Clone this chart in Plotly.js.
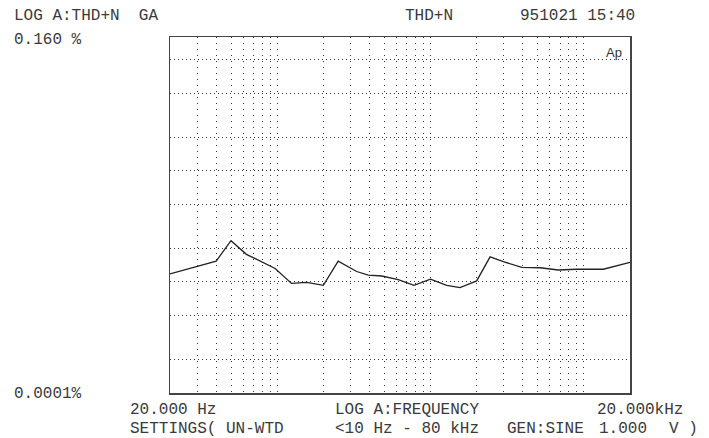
<!DOCTYPE html>
<html>
<head>
<meta charset="utf-8">
<script src="https://cdn.plot.ly/plotly-3.0.1.min.js"></script>
<style>
  html, body { margin: 0; padding: 0; background: #fff; }
  #chart { width: 709px; height: 438px; }
</style>
</head>
<body>
<div id="chart"></div>
<script>
// ---- data ----
const freqHz = [20, 40, 50, 63, 97, 124, 156, 200, 250, 330, 393, 481, 616, 780, 1000, 1276, 1557, 2000, 2446, 2986, 3936, 5180, 6813, 8980, 13400, 20000];
const thdPct = [0.00118, 0.00154, 0.00235, 0.00177, 0.00132, 0.00097, 0.00099, 0.00093, 0.00154, 0.00124, 0.00115, 0.00113, 0.00105, 0.00093, 0.00106, 0.00093, 0.00089, 0.00102, 0.00168, 0.00152, 0.00135, 0.00134, 0.00128, 0.00130, 0.00130, 0.00150];

const xGridHz = [30, 40, 50, 60, 70, 80, 90, 100, 200, 300, 400, 500, 600, 700, 800, 900, 1000, 2000, 3000, 4000, 5000, 6000, 7000, 8000, 9000, 10000];
const yGridPct = [0.0002, 0.0005, 0.001, 0.002, 0.005, 0.01, 0.02, 0.05, 0.1];
const xMin = 20, xMax = 20000;
const yMin = 0.0001, yMax = 0.160;

const headerLeft = "LOG A:THD+N  GA";
const headerMid = "THD+N";
const headerRight = "951021 15:40";
const yTopLabel = "0.160 %";
const yBottomLabel = "0.0001%";
const xLeftLabel = "20.000 Hz";
const xMidLabel = "LOG A:FREQUENCY";
const xRightLabel = "20.000kHz";
const footLeft = "SETTINGS( UN-WTD";
const footMid = "<10 Hz - 80 kHz";
const footGen = "GEN:SINE";
const footLevel = "1.000";
const footUnit = "V )";
const logo = "Ap";

// ---- layout helpers (pixel -> paper) ----
const W = 709, H = 438;
const L = 170, R = 630, T = 37, B = 393;
const px = x => (x - L) / (R - L);
const py = y => (B - y) / (B - T);
const FONT = "Liberation Mono, Courier New, monospace";
const TXT = "#3a3a3a";

function label(text, x, y, opts) {
  return Object.assign({
    text: text, xref: "paper", yref: "paper",
    x: px(x), y: py(y), xanchor: "left", yanchor: "middle",
    showarrow: false, font: {family: FONT, size: 16, color: TXT}
  }, opts || {});
}

const LINE1 = 410.3, LINE2 = 428.5;
const annotations = [
  label(headerLeft, 12, 16),
  label(headerMid, 403, 16),
  label(headerRight, 518, 16),
  label(yTopLabel, 12, 40),
  label(yBottomLabel, 12, 394),
  label(xLeftLabel, 128, LINE1),
  label(xMidLabel, 333, LINE1),
  label(xRightLabel, 595, LINE1),
  label(footLeft, 128, LINE2),
  label(footMid, 333, LINE2),
  label(footGen, 505, LINE2),
  label(footLevel, 597, LINE2),
  label(footUnit, 667, LINE2),
  label(logo, 604, 52, {font: {family: "Liberation Sans, Arial, sans-serif", size: 13, color: "#333"}})
];

const trace = {
  x: freqHz, y: thdPct, type: "scatter", mode: "lines",
  line: {color: "#222", width: 1.3},
  hoverinfo: "skip"
};

const layout = {
  width: W, height: H,
  margin: {l: L, r: W - R, t: T, b: H - B, pad: 0},
  paper_bgcolor: "#fff", plot_bgcolor: "#fff",
  showlegend: false,
  xaxis: {
    type: "log", range: [Math.log10(xMin), Math.log10(xMax)],
    tickmode: "array", tickvals: xGridHz, showticklabels: false, ticks: "",
    showgrid: true, gridcolor: "#333", gridwidth: 1, griddash: "1px,5px",
    showline: true, mirror: true, linecolor: "#444", linewidth: 1.5,
    zeroline: false, fixedrange: true
  },
  yaxis: {
    type: "log", range: [Math.log10(yMin), Math.log10(yMax)],
    tickmode: "array", tickvals: yGridPct, showticklabels: false, ticks: "",
    showgrid: true, gridcolor: "#333", gridwidth: 1, griddash: "1px,3px",
    showline: true, mirror: true, linecolor: "#444", linewidth: 1.5,
    zeroline: false, fixedrange: true
  },
  annotations: annotations
};

Plotly.newPlot("chart", [trace], layout, {staticPlot: true, displayModeBar: false});
</script>
</body>
</html>
